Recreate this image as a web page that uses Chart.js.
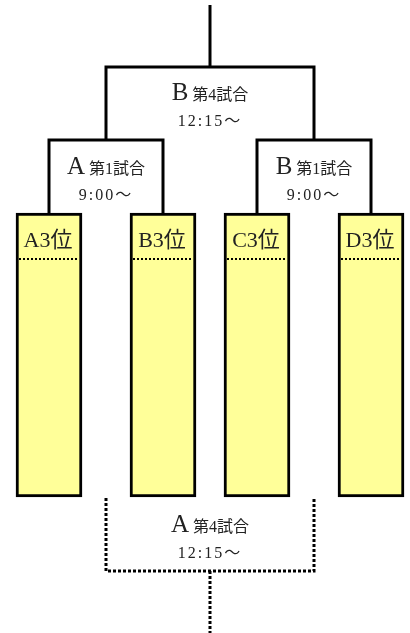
<!DOCTYPE html>
<html>
<head>
<meta charset="utf-8">
<script src="https://cdn.jsdelivr.net/npm/chart.js@4"></script>
<style>
  body { margin: 0; background: #fff; }
  #wrap { width: 410px; height: 633px; position: relative; }
</style>
</head>
<body>
<div id="wrap"><canvas id="chart"></canvas></div>
<script>
// teams (first round slots)
const teams = ['A3位', 'B3位', 'C3位', 'D3位'];
const teamX = [49, 163, 257, 371];

// first round matches
const r1Courts = ['A', 'B'];
const r1Games = ['第1試合', '第1試合'];
const r1Times = ['9:00～', '9:00～'];

// winners match / losers match
const finalCourt = 'B', finalGame = '第4試合', finalTime = '12:15～';
const thirdCourt = 'A', thirdGame = '第4試合', thirdTime = '12:15～';

// vertical levels of the bracket
const levels = { top: 5, final: 67, r1: 140, boxTop: 213, divider: 259, boxBottom: 497, third: 571, bottom: 633 };

const mid = (a, b) => (a + b) / 2;
const r1X = [mid(teamX[0], teamX[1]), mid(teamX[2], teamX[3])];
const finalX = mid(r1X[0], r1X[1]);

function solid(points) {
    return { type: 'line', data: points, borderColor: '#000', borderWidth: 3, pointRadius: 0,
             fill: false, tension: 0, borderCapStyle: 'butt', borderJoinStyle: 'miter', order: 2 };
}
function dotted(points) {
    let ds = solid(points);
    ds.borderDash = [3, 2];
    return ds;
}

let datasets = [{
    type: 'bar',
    data: teamX.map(x => ({ x: x, y: [levels.boxTop, levels.boxBottom] })),
    backgroundColor: '#FFFF99',
    borderColor: '#000',
    borderWidth: 3,
    borderSkipped: false,
    barThickness: 66,
    order: 1
}];
// first round brackets
[0, 1].forEach(i => {
    let a = teamX[i * 2], b = teamX[i * 2 + 1];
    datasets.push(solid([{x: a, y: levels.boxTop}, {x: a, y: levels.r1}, {x: b, y: levels.r1}, {x: b, y: levels.boxTop}]));
});
// final bracket
datasets.push(solid([{x: r1X[0], y: levels.r1}, {x: r1X[0], y: levels.final}, {x: r1X[1], y: levels.final}, {x: r1X[1], y: levels.r1}]));
datasets.push(solid([{x: finalX, y: levels.final}, {x: finalX, y: levels.top}]));
// losers bracket (dotted)
datasets.push(dotted([{x: r1X[0], y: levels.boxBottom + 1}, {x: r1X[0], y: levels.third}, {x: r1X[1], y: levels.third}, {x: r1X[1], y: levels.boxBottom + 1}]));
datasets.push(dotted([{x: finalX, y: levels.third}, {x: finalX, y: levels.bottom}]));
// divider inside boxes
teamX.forEach(x => {
    datasets.push({ type: 'line', data: [{x: x - 30, y: levels.divider}, {x: x + 30, y: levels.divider}],
        borderColor: '#000', borderWidth: 2, borderDash: [2, 2], pointRadius: 0, fill: false, order: 0 });
});

const SERIF = '"Liberation Serif", "DejaVu Serif", "Noto Sans CJK JP"';

function matchLabel(ctx, sx, sy, x, y, court, game, time) {
    let px = sx.getPixelForValue(x);
    ctx.fillStyle = '#222';
    ctx.textBaseline = 'alphabetic';
    ctx.font = '25px ' + SERIF;
    let w1 = ctx.measureText(court).width;
    ctx.font = '16px ' + SERIF;
    let w2 = ctx.measureText(game).width;
    let gap = 4;
    let left = px - (w1 + gap + w2) / 2;
    ctx.textAlign = 'left';
    ctx.font = '25px ' + SERIF;
    ctx.fillText(court, left, sy.getPixelForValue(y));
    ctx.font = '16px ' + SERIF;
    ctx.fillText(game, left + w1 + gap, sy.getPixelForValue(y));
    ctx.textAlign = 'center';
    ctx.font = '16px ' + SERIF;
    ctx.letterSpacing = '2px';
    ctx.fillText(time, px, sy.getPixelForValue(y + 26));
    ctx.letterSpacing = '0px';
}

const labelsPlugin = {
    id: 'bracketLabels',
    afterDatasetsDraw(chart) {
        const ctx = chart.ctx;
        const sx = chart.scales.x, sy = chart.scales.y;
        ctx.save();
        matchLabel(ctx, sx, sy, finalX, 100, finalCourt, finalGame, finalTime);
        r1X.forEach((x, i) => matchLabel(ctx, sx, sy, x, 174, r1Courts[i], r1Games[i], r1Times[i]));
        matchLabel(ctx, sx, sy, finalX, 532, thirdCourt, thirdGame, thirdTime);
        ctx.font = '22px ' + SERIF;
        ctx.fillStyle = '#222';
        ctx.textAlign = 'center';
        teams.forEach((t, i) => ctx.fillText(t, sx.getPixelForValue(teamX[i]) - 1, sy.getPixelForValue(247)));
        ctx.restore();
    }
};

new Chart(document.getElementById('chart').getContext('2d'), {
    type: 'bar',
    data: { datasets: datasets },
    options: {
        responsive: true,
        maintainAspectRatio: false,
        animation: false,
        layout: { padding: 0 },
        plugins: { legend: { display: false }, tooltip: { enabled: false } },
        scales: {
            x: { type: 'linear', min: 0, max: 410, offset: false, display: false },
            y: { type: 'linear', min: 0, max: 633, reverse: true, display: false, beginAtZero: false }
        }
    },
    plugins: [labelsPlugin]
});
</script>
</body>
</html>
